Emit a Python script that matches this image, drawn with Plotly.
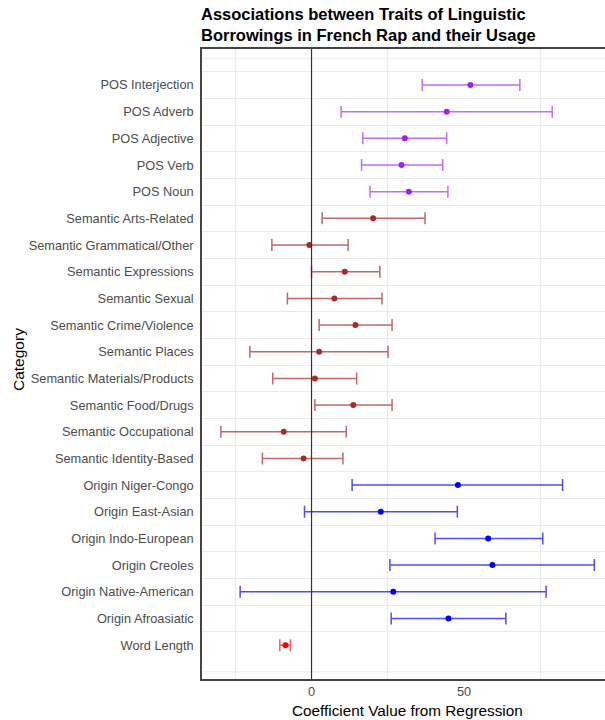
import plotly.graph_objects as go

# Categories, top to bottom
categories = [
    "POS Interjection", "POS Adverb", "POS Adjective", "POS Verb", "POS Noun",
    "Semantic Arts-Related", "Semantic Grammatical/Other", "Semantic Expressions",
    "Semantic Sexual", "Semantic Crime/Violence", "Semantic Places",
    "Semantic Materials/Products", "Semantic Food/Drugs", "Semantic Occupational",
    "Semantic Identity-Based",
    "Origin Niger-Congo", "Origin East-Asian", "Origin Indo-European",
    "Origin Creoles", "Origin Native-American", "Origin Afroasiatic",
    "Word Length",
]
groups = ["POS"] * 5 + ["Semantic"] * 10 + ["Origin"] * 6 + ["Length"]

estimate = [52.1, 44.3, 30.6, 29.5, 31.9,
            20.2, -0.7, 10.9, 7.5, 14.4, 2.5, 1.1, 13.7, -9.1, -2.6,
            48.0, 22.7, 57.9, 59.3, 26.8, 44.9,
            -8.5]
ci_low = [36.3, 9.7, 16.8, 16.4, 19.2,
          3.5, -13.0, 0.0, -7.9, 2.5, -20.2, -12.7, 1.1, -29.7, -16.1,
          13.3, -2.3, 40.5, 25.7, -23.4, 26.1,
          -10.4]
ci_high = [68.3, 78.9, 44.3, 43.0, 44.7,
           37.2, 12.0, 22.4, 23.1, 26.4, 25.1, 14.8, 26.4, 11.4, 10.3,
           82.3, 47.8, 75.8, 92.7, 76.9, 63.7,
           -6.9]

group_colors = {
    "POS": ("#A020F0", "rgba(160,32,240,0.65)"),
    "Semantic": ("#A52A2A", "rgba(165,42,42,0.7)"),
    "Origin": ("#0000FF", "rgba(0,0,255,0.7)"),
    "Length": ("#FF0000", "rgba(255,0,0,0.65)"),
}

x_gridlines = [-25, 25, 75]
x_ticks = [0, 50]

fig = go.Figure()
for g, (pt_col, bar_col) in group_colors.items():
    idx = [i for i, gg in enumerate(groups) if gg == g]
    fig.add_trace(go.Scatter(
        x=[estimate[i] for i in idx],
        y=[categories[i] for i in idx],
        mode="markers",
        marker=dict(color=pt_col, size=6),
        error_x=dict(
            type="data", symmetric=False,
            array=[ci_high[i] - estimate[i] for i in idx],
            arrayminus=[estimate[i] - ci_low[i] for i in idx],
            color=bar_col, thickness=1.5, width=6,
        ),
        showlegend=False,
        cliponaxis=False,
    ))

n = len(categories)
font_family = "Liberation Sans, Arial, sans-serif"

fig.update_layout(
    width=605, height=720,
    margin=dict(l=202, r=0, t=49, b=41),
    plot_bgcolor="white", paper_bgcolor="white",
    font=dict(family=font_family, color="#4D4D4D", size=12),
    xaxis=dict(
        range=[-35.9, 96.2],
        tickvals=x_ticks, ticktext=[str(v) for v in x_ticks],
        showgrid=False, zeroline=False,
        minor=dict(tickmode="array", tickvals=x_gridlines, showgrid=True,
                   gridcolor="#EBEBEB", gridwidth=1, ticks=""),
        showline=True, linecolor="#444444", linewidth=1.6, mirror=True,
        ticks="", tickfont=dict(size=12.8, color="#4D4D4D"),
    ),
    yaxis=dict(
        type="category", categoryorder="array", categoryarray=categories,
        range=[n - 1 + 1.27, -1.35],
        tickson="boundaries", showgrid=True, gridcolor="#EBEBEB", gridwidth=1,
        showline=True, linecolor="#444444", linewidth=1.6,
        ticks="", ticklabelstandoff=4,
        tickfont=dict(size=12.8, color="#4D4D4D"),
        zeroline=False,
    ),
)

# extra light gridlines at the outer ends
for yv in [-1, n]:
    fig.add_shape(type="line", xref="paper", x0=0, x1=1, yref="y", y0=yv, y1=yv,
                  line=dict(color="#EBEBEB", width=1), layer="below")

# zero reference line
fig.add_shape(type="line", xref="x", x0=0, x1=0, yref="paper", y0=0, y1=1,
              line=dict(color="#333333", width=1.2), layer="above")

# title
fig.add_annotation(
    text="<b>Associations between Traits of Linguistic<br>Borrowings in French Rap and their Usage</b>",
    xref="paper", yref="paper", x=(199 - 202) / 403, y=(679 - 25) / 630,
    xanchor="left", yanchor="middle", align="left", showarrow=False,
    font=dict(family=font_family, size=16.5, color="black"),
)
fig.add_annotation(text="Category", xref="paper", yref="paper",
                   x=(18 - 202) / 403, y=(679 - 360) / 630, textangle=-90,
                   showarrow=False, xanchor="center", yanchor="middle",
                   font=dict(family=font_family, size=15.5, color="black"))
fig.add_annotation(text="Coefficient Value from Regression", xref="paper", yref="paper",
                   x=(407 - 202) / 403, y=(679 - 710) / 630,
                   showarrow=False, xanchor="center", yanchor="middle",
                   font=dict(family=font_family, size=15.3, color="black"))

fig.write_html(
    "out.html",
    config={"displayModeBar": False},
    post_script="document.body.style.margin='0px';document.body.style.padding='0px';",
)
